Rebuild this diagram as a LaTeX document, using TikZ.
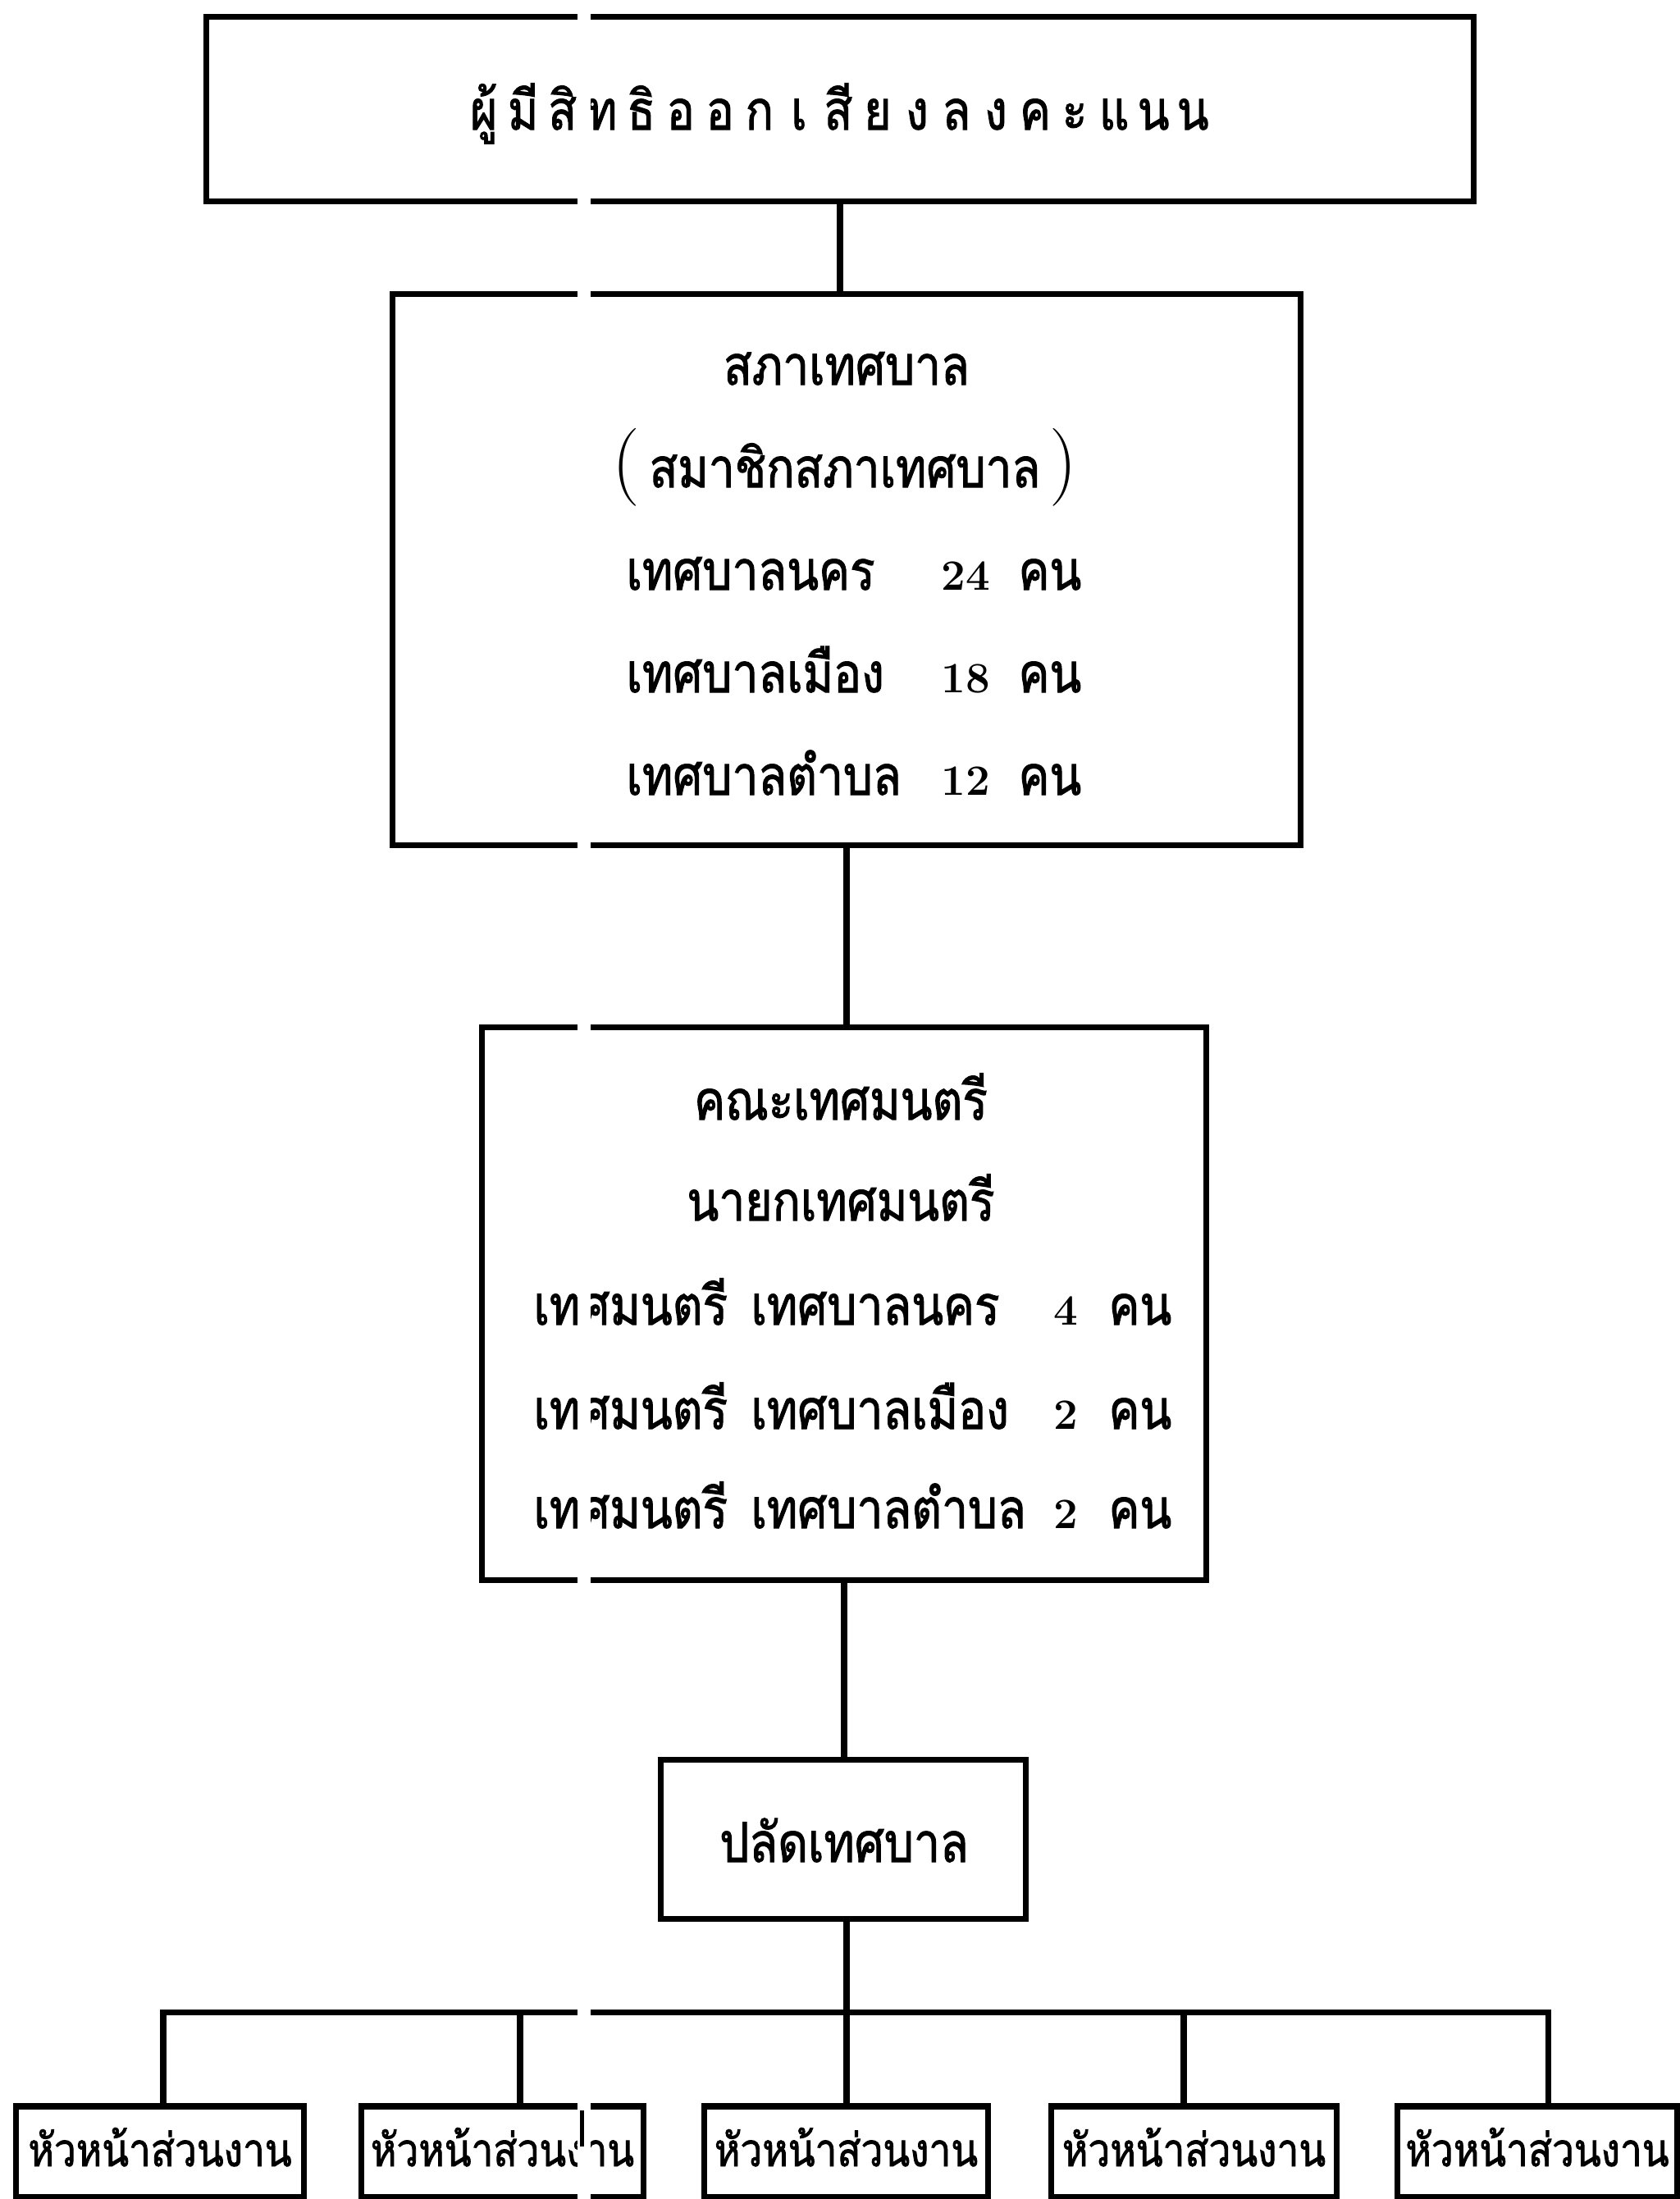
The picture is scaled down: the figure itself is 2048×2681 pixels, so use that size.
\documentclass[tikz,border=0pt]{standalone}
\usepackage{fontspec}
\newfontfamily\thai[Script=Thai,FakeStretch=0.85,FakeBold=1.5]{Loma}
\newcommand\thc[1]{\makebox[0.48cm]{#1}}
\begin{document}
\begin{tikzpicture}[x=0.01cm,y=-0.01cm,line width=2pt,
  box/.style={draw,line width=2pt,inner sep=0pt,outer sep=0pt},
  txt/.style={font=\thai\fontsize{19}{19}\selectfont,inner sep=0pt,anchor=base},
  txtw/.style={txt,anchor=base west},
  small/.style={font=\thai\fontsize{16}{16}\selectfont,inner sep=0pt,anchor=base},
  num/.style={font=\fontsize{15}{15}\selectfont\bfseries,inner sep=0pt,anchor=base},
  paren/.style={font=\fontsize{27}{27}\selectfont,inner sep=0pt},
  link/.style={line width=2pt}]
\useasboundingbox (0,0) rectangle (2048,2681);
\fill[white] (0,0) rectangle (2048,2681);
% boxes
\node[box,minimum width=15.45cm,minimum height=2.24cm] (b1) at (1024,133) {};
\node[box,minimum width=11.06cm,minimum height=6.71cm] (b2) at (1032,694.5) {};
\node[box,minimum width=8.82cm,minimum height=6.73cm] (b3) at (1029,1589.5) {};
\node[box,minimum width=4.45cm,minimum height=1.93cm] (b4) at (1028,2242.5) {};
\node[box,minimum width=3.50cm,minimum height=1.10cm] (c1) at (195,2623) {};
\node[box,minimum width=3.43cm,minimum height=1.10cm] (c2) at (612.5,2623) {};
\node[box,minimum width=3.45cm,minimum height=1.10cm] (c3) at (1031.5,2623) {};
\node[box,minimum width=3.47cm,minimum height=1.10cm] (c4) at (1455.5,2623) {};
\node[box,minimum width=3.40cm,minimum height=1.10cm] (c5) at (1874,2623) {};
% texts
\node[txt] (l1) at (1022,158) {\thc{ผู้}\thc{มี}\thc{สิ}\thc{ท}\thc{ธิ}\thc{อ}\thc{อ}\thc{ก}\thc{เ}\thc{สี}\thc{ย}\thc{ง}\thc{ล}\thc{ง}\thc{ค}\thc{ะ}\thc{แ}\thc{น}\thc{น}};
\node[txt] (s1) at (1032,469) {สภาเทศบาล};
\node[paren] (s2a) at (763,570) {(};
\node[txt] (s2) at (1030,594) {สมาชิกสภาเทศบาล};
\node[paren] (s2b) at (1296,570) {)};
\node[txtw] (s3) at (760,719) {เทศบาลนคร};
\node[num] (s3n) at (1177,719) {24};
\node[txtw] (s3k) at (1238,719) {คน};
\node[txtw] (s4) at (760,844) {เทศบาลเมือง};
\node[num] (s4n) at (1177,844) {18};
\node[txtw] (s4k) at (1238,844) {คน};
\node[txtw] (s5) at (760,969) {เทศบาลตำบล};
\node[num] (s5n) at (1177,969) {12};
\node[txtw] (s5k) at (1238,969) {คน};
\node[txt] (m1) at (1025,1365) {คณะเทศมนตรี};
\node[txt] (m2) at (1025,1488) {นายกเทศมนตรี};
\node[txtw] (m3) at (647,1615) {เทศมนตรี};
\node[txtw] (m3b) at (912,1615) {เทศบาลนคร};
\node[num] (m3n) at (1299,1615) {4};
\node[txtw] (m3k) at (1348,1615) {คน};
\node[txtw] (m4) at (647,1742) {เทศมนตรี};
\node[txtw] (m4b) at (912,1742) {เทศบาลเมือง};
\node[num] (m4n) at (1299,1742) {2};
\node[txtw] (m4k) at (1348,1742) {คน};
\node[txtw] (m5) at (647,1863) {เทศมนตรี};
\node[txtw] (m5b) at (912,1863) {เทศบาลตำบล};
\node[num] (m5n) at (1299,1863) {2};
\node[txtw] (m5k) at (1348,1863) {คน};
\node[txt] (p1) at (1029,2270) {ปลัดเทศบาล};
\foreach \c in {c1,c2,c3,c4,c5}{
  \node[small] (\c t) at ([yshift=-0.18cm]\c.center) {หัวหน้าส่วนงาน};
}
% connectors
\coordinate (t1) at (199,2453);
\coordinate (t2) at (634,2453);
\coordinate (t3) at (1032,2453);
\coordinate (t4) at (1443,2453);
\coordinate (t5) at (1887,2453);
\draw[link] (b1.south) -- (b1.south |- b2.north);
\draw[link] (b2.south) -- (b2.south |- b3.north);
\draw[link] (b3.south) -- (b3.south |- b4.north);
\draw[link] (b4.south -| t3) -- (t3);
\draw[link] (t1 |- c1.north) -- (t1) -- (t5) -- (t5 |- c5.north);
\draw[link] (t2) -- (t2 |- c2.north);
\draw[link] (t3) -- (t3 |- c3.north);
\draw[link] (t4) -- (t4 |- c4.north);
% scan stripe
\fill[white] (704,0) rectangle (720,2681);
\coordinate (a1) at (709.5,2573);
\draw[line width=1.4pt] (a1) -- ++(0,44);
\end{tikzpicture}
\end{document}
